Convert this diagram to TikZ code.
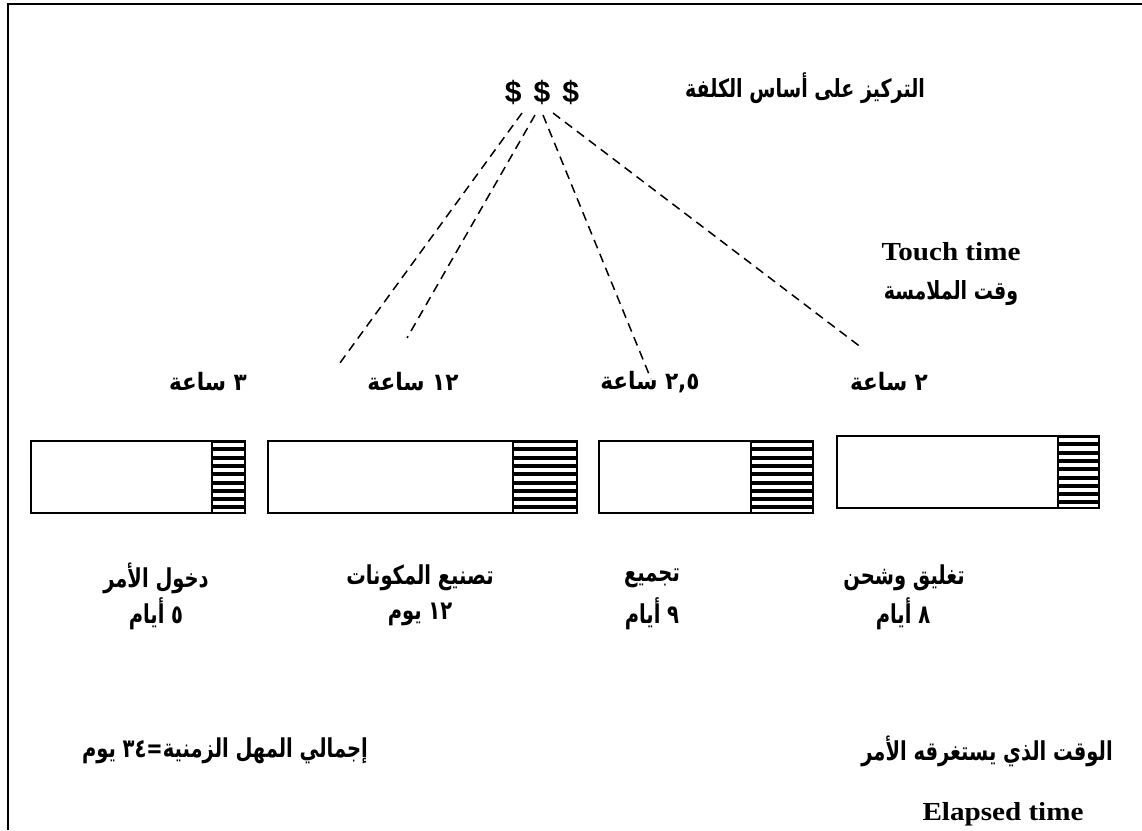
\documentclass[tikz,border=0pt]{standalone}
\usepackage{fontspec}
\setmainfont{Liberation Serif}
% Latin labels: Times-metric bold, slightly widened
\newfontfamily\enwide[FakeStretch=1.12]{Liberation Serif}
% Arabic faces: DejaVu Sans Bold, narrowed to different degrees
\newfontfamily\arhead[Script=Arabic,FakeStretch=0.76,BoldFont={DejaVu Sans Bold}]{DejaVu Sans}
\newfontfamily\arhour[Script=Arabic,FakeStretch=0.9,BoldFont={DejaVu Sans Bold}]{DejaVu Sans}
\newfontfamily\arstep[Script=Arabic,FakeStretch=0.75,BoldFont={DejaVu Sans Bold}]{DejaVu Sans}
\newfontfamily\dollarfont{Liberation Sans}
\TeXXeTstate=1
\begin{document}
\begin{tikzpicture}[x=1pt,y=-1pt,
  lbl/.style={inner sep=0pt,anchor=center},
  headtxt/.style={lbl,font=\arhead\bfseries\fontsize{25}{28}\selectfont},
  hourtxt/.style={lbl,font=\arhour\bfseries\fontsize{24}{27}\selectfont},
  steptxt/.style={lbl,font=\arstep\bfseries\fontsize{26}{29}\selectfont},
  entext/.style={inner sep=0pt,anchor=base,font=\enwide\bfseries\fontsize{26}{30}\selectfont},
  bar/.style={line width=1.6pt},
  stripe/.style={line width=4pt,black},
  ray/.style={line width=1.5pt,dash pattern=on 9pt off 6pt}]
\useasboundingbox (0,0) rectangle (1142,830);
% outer frame (only top and left edges fall inside the page)
\draw[line width=2.2pt] (8,830) -- (8,4) -- (1142,4);

% cost focus
\node[lbl,font=\dollarfont\bfseries\fontsize{30}{33}\selectfont] (cost) at (542,92) {\$\hspace{12pt}\$\hspace{12pt}\$};
\node[headtxt] (costlbl) at (805,88) {\beginR التركيز على أساس الكلفة\endR};

% touch time
\node[entext] (touch) at (951,260) {Touch time};
\node[headtxt] (touchar) at (951,293) {\beginR وقت الملامسة\endR};

% dashed rays from the dollar signs
\coordinate (s1) at (522,113);
\coordinate (s2) at (535,115);
\coordinate (s3) at (543,115);
\coordinate (s4) at (553,113);
\coordinate (e1) at (337,367);
\coordinate (e2) at (407,338);
\coordinate (e3) at (651,379);
\coordinate (e4) at (862,348);
\draw[ray] (s1) -- (e1);
\draw[ray] (s2) -- (e2);
\draw[ray] (s3) -- (e3);
\draw[ray] (s4) -- (e4);

% hours per step
\node[hourtxt] (h1) at (208,382) {\beginR ٣ ساعة\endR};
\node[hourtxt] (h2) at (413,382) {\beginR ١٢ ساعة\endR};
\node[hourtxt] (h3) at (650,382) {\beginR ٢,٥ ساعة\endR};
\node[hourtxt] (h4) at (889,382) {\beginR ٢ ساعة\endR};

% step bars: plain part and striped touch-time part
\foreach \xa/\xh/\xb/\ya/\yb in {31/212/245/441/513, 268/513/577/441/513, 599/751/813/441/513, 837/1058/1099/436/508}{
  \begin{scope}
    \clip (\xh,\ya) rectangle (\xb,\yb);
    \fill[white] (\xh,\ya) rectangle (\xb,\yb);
    \foreach \k in {0,...,10}
      \draw[stripe] (\xh,{\ya+\k*8.3}) -- (\xb,{\ya+\k*8.3});
  \end{scope}
  \draw[bar] (\xa,\ya) rectangle (\xb,\yb);
  \draw[bar] (\xh,\ya) -- (\xh,\yb);
}

% step names and elapsed days
\node[steptxt] (n1) at (156,578) {\beginR دخول الأمر\endR};
\node[steptxt] (d1) at (156,614) {\beginR ٥ أيام\endR};
\node[steptxt] (n2) at (420,578) {\beginR تصنيع المكونات\endR};
\node[steptxt] (d2) at (420,614) {\beginR ١٢ يوم\endR};
\node[steptxt] (n3) at (652,578) {\beginR تجميع\endR};
\node[steptxt] (d3) at (652,614) {\beginR ٩ أيام\endR};
\node[steptxt] (n4) at (904,578) {\beginR تغليق وشحن\endR};
\node[steptxt] (d4) at (903,614) {\beginR ٨ أيام\endR};

% totals
\node[steptxt] (total) at (225,751) {\beginR إجمالي المهل الزمنية=٣٤ يوم\endR};
\node[steptxt] (elapsedar) at (987,751) {\beginR الوقت الذي يستغرقه الأمر\endR};
\node[entext] (elapsed) at (1003,820) {Elapsed time};
\end{tikzpicture}
\end{document}
